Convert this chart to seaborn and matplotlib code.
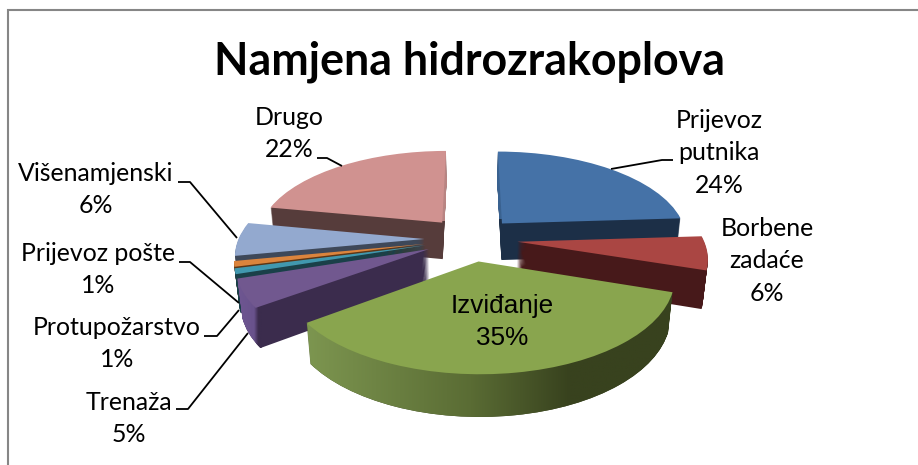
import numpy as np
import matplotlib
matplotlib.use("Agg")
import matplotlib.pyplot as plt
import seaborn as sns
from matplotlib.colors import LinearSegmentedColormap
from matplotlib.path import Path
from matplotlib.transforms import Transform

# ---- data ----
categories = ["Prijevoz\nputnika", "Borbene\nzadaće", "Izviđanje", "Trenaža",
              "Protupožarstvo", "Prijevoz pošte", "Višenamjenski", "Drugo"]
shares = [24, 6, 35, 5, 1, 1, 6, 22]
title = "Namjena hidrozrakoplova"

# ---- styles ----
top_colors = ["#4572A7", "#AA4643", "#89A54E", "#71588F",
              "#4198AF", "#DB843D", "#93A9CF", "#D09290"]
side_colors = ["#1C2F47", "#47191A", "#38421E", "#3B2C4D",
               "#1A4049", "#5C3515", "#3E4859", "#563C3B"]
# slice index -> (x0, x1, y0, y1, colour stops running left to right)
side_shades = {
    2: (305, 673, 250, 465, [(0.0, "#7D9650"), (0.45, "#5A6C34"), (0.72, "#38421E"), (1.0, "#38421E")]),
    3: (236, 262, 250, 360, [(0.0, "#6F5792"), (0.70, "#69528C"), (0.86, "#3B2C4D"), (1.0, "#3B2C4D")]),
    0: (490, 512, 140, 219, [(0.0, "#3A6290"), (1.0, "#3A6290")]),
    7: (436, 456, 140, 221, [(0.0, "#B98583"), (1.0, "#B98583")]),
}
explode = 0.25
FRAME = "#868686"
INK = "#000000"

sns.set_theme(style="white")
plt.rcParams["font.family"] = ["Lato", "DejaVu Sans"]

W, H = 918, 465
fig = plt.figure(figsize=(W / 100, H / 100), dpi=100, facecolor="white")
ax = fig.add_axes([0, 0, 1, 1])

CX, CY, RX, RY, DEPTH, K, M = 471.0, 239.0, 186.0, 87.5, 38.0, 0.155, 0.02


class Tilt(Transform):
    """Perspective view of the pie plane, in pixel-like axes units."""
    input_dims = 2
    output_dims = 2
    is_separable = False

    def __init__(self, z):
        super().__init__()
        self.z = z

    def transform_non_affine(self, values):
        x, y = np.asarray(values).T
        s = 1.0 / (1.0 + K * y + M * self.z)
        return np.column_stack([CX + RX * s * x, CY - s * (RY * y - DEPTH * self.z)])


n_layers = 40
swept = {j: [] for j in side_shades}
for i in range(n_layers + 1):
    z = 1.0 - i / n_layers
    is_top = i == n_layers
    colors = sns.color_palette(top_colors if is_top else side_colors)
    wedges, _ = ax.pie(shares, explode=[explode] * len(shares), colors=colors,
                       startangle=90, counterclock=False, radius=1.0,
                       wedgeprops={"linewidth": 0.0, "edgecolor": "none"})
    tilt = Tilt(z)
    for j, w in enumerate(wedges):
        w.set_transform(tilt + ax.transData)
        w.set_zorder(n_layers + 5 if is_top else i + 2)
        if not is_top and j in swept:
            swept[j].append(tilt.transform_path(w.get_patch_transform().transform_path(w.get_path())))

# shaded sides: one picture per slice, cut to the outline swept by that slice
for j, (x0, x1, y0, y1, stops) in side_shades.items():
    cmap = LinearSegmentedColormap.from_list("g", stops)
    im = ax.imshow(np.linspace(0, 1, 256)[None, :], cmap=cmap, aspect="auto",
                   extent=(x0, x1, y1, y0), zorder=n_layers + 3, interpolation="bilinear")
    im.set_clip_path(Path.make_compound_path(*swept[j]), ax.transData)

ax.set_aspect("auto")
ax.set_xlim(0, W)
ax.set_ylim(H, 0)
ax.axis("off")

# frame, cut off by the right and bottom edges of the picture
ax.plot([8, 8, W], [H, 10, 10], color=FRAME, lw=1.5, solid_joinstyle="miter", zorder=100)

# title
ax.text(470, 62, title, ha="center", va="center", fontsize=32.2, fontweight="bold",
        color=INK, zorder=120)

# labels
label_fs = 17.9
line_h = 32.5
label_pos = [(719, 120), (767, 228), None, (129, 402), (117, 327), (98, 253), (96, 173), (289, 117)]
for name, share, pos in zip(categories, shares, label_pos):
    if pos is None:
        continue
    lines = name.split("\n") + [f"{share}%"]
    for k, line in enumerate(lines):
        ax.text(pos[0], pos[1] + k * line_h, line, ha="center", va="center",
                fontsize=label_fs, color=INK, zorder=120)

# label inside the green slice
for k, line in enumerate([categories[2], f"{shares[2]}%"]):
    ax.text(502, 306 + k * 32, line, ha="center", va="center", fontsize=18.8,
            family="Liberation Sans", color=INK, zorder=120)

# leader lines
leaders = [
    [(611, 169), (662, 160), (673, 160)],
    [(317, 158), (327, 158), (342, 166)],
    [(178, 182), (190, 182), (237, 238)],
    [(179, 262), (190, 262), (239, 303)],
    [(204, 336), (217, 336), (239, 310)],
    [(176, 409), (188, 409), (248, 333)],
]
for pts in leaders:
    xs, ys = zip(*pts)
    ax.plot(xs, ys, color=INK, lw=1.3, zorder=110, solid_capstyle="butt")

fig.savefig("out.png", dpi=100, facecolor="white")
